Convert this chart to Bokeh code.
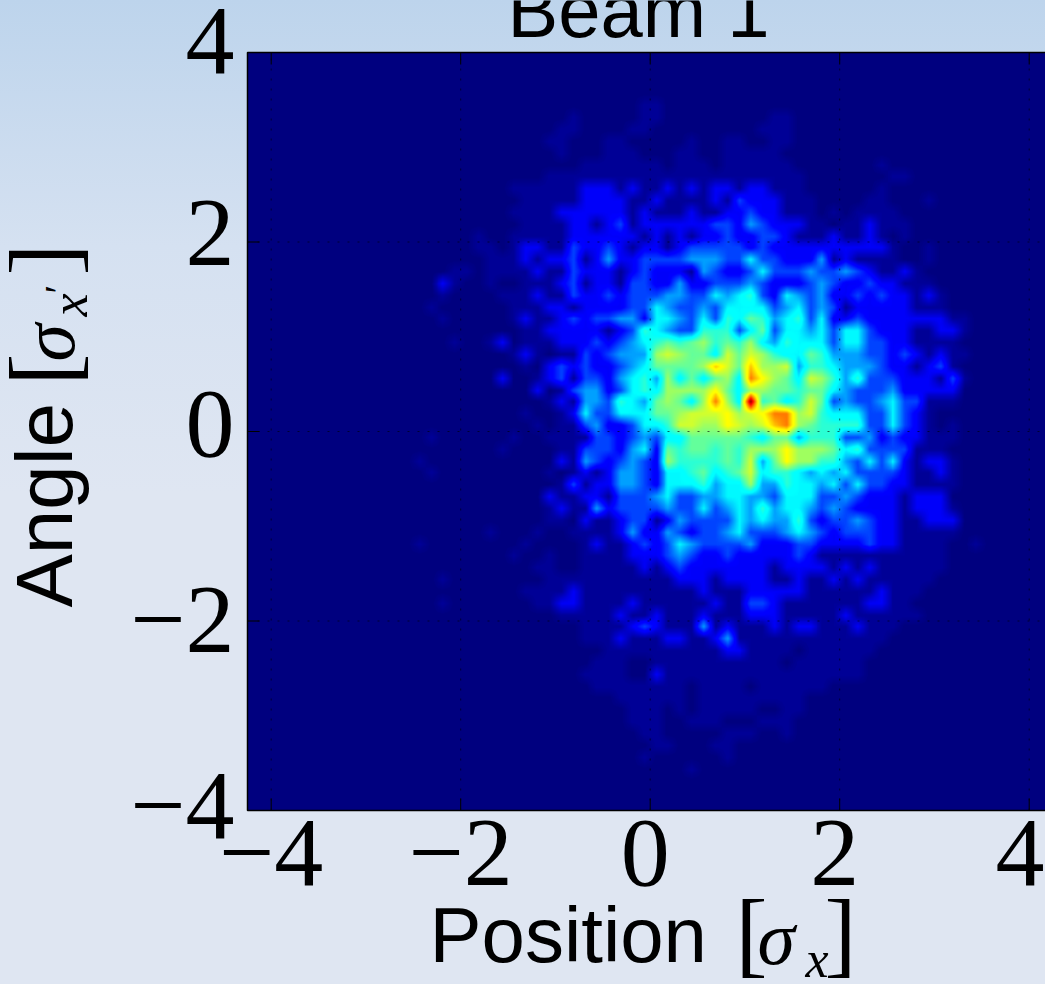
import numpy as np
from bokeh.core.properties import value
from bokeh.embed import file_html
from bokeh.resources import INLINE
from bokeh.models import LinearColorMapper, Range1d, GlobalInlineStyleSheet
from bokeh.plotting import figure

# Histogram levels (hex digit per cell, 0..15), top row first; cell = 0.125 sigma
density_rows = """
0000000000 0000000000 0000000000 0000000000 0000000000 0000000000 00000000
0000000000 0000000000 0000000000 0000000000 0000000000 0000000000 00000000
0000000000 0000000000 0000000000 0000000000 0000000000 0000000000 00000000
0000000000 0000000000 0000000000 0000000000 0000000000 0000000000 00000000
0000000000 0000000000 0000000000 0001100000 0000000000 0000000000 00000000
0000000000 0000000000 0000000100 0001100000 0000110000 0000000000 00000000
0000000000 0000000000 0000001100 0011000000 0001110000 0000000000 00000000
0000000000 0000000000 0000011000 1100000100 1100110000 0000000000 00000000
0000000000 0000000000 0000001000 1110001100 1111100000 0000000000 00000000
0000000000 0000000000 0000000011 1111101110 1111110000 0001000000 00000000
0000000000 0000000000 0000011111 1111111111 1111111000 0000110000 00000000
0000000000 0000000000 0011111122 2121121212 2122111000 0001000000 00000000
0000000000 0000000000 0001111122 2211211112 1322211100 0011000100 00000000
0000000000 0000000000 0011112222 2212111211 2232211101 0111100000 00000000
0000000000 0000000000 0001111221 2312222223 3243222110 1121110000 00000000
0000000000 0000000001 0011111222 2221212122 3223321112 1121010000 00000000
0000000000 0000000001 1012211322 3212212333 3323222222 2222100100 00000000
0000000000 0000000000 1112122312 4223333444 3353322241 2111100100 00000000
0000000000 0000000110 1111211322 2123222143 2235333433 4321121000 00000000
0000000000 0000002100 1001112312 2133224223 3343222343 2232211100 00000000
0000000000 0000001000 0111211322 3233344335 4563254342 2323221210 00000000
0000000000 0000010000 0011122122 2233543343 5555345343 1222221110 00000000
0000000000 0000001000 0012112323 3442554353 6576456352 2322222221 10000000
0000000000 0000000000 0001122222 1236543366 6357355453 5532221122 10000000
0000000000 0000000100 1201112223 2345676786 7685465553 5533221111 00000000
0000000000 0000000000 0012101132 3444898775 9798655764 4433232121 10000000
0000000000 0000000000 0001023232 234577778b 97b8894665 4443221231 00000000
0000000000 0000000000 0200123133 2456485757 85ca875986 4633322213 10000000
0000000000 0000000000 0000201344 235658888a 7588776775 4333422222 00000000
0000000000 0000000000 0000012144 365478758c 85f6756973 4334533111 00000000
0000000000 0000000000 0001001253 3555778999 a89acc8965 5533532100 00000000
0000000000 0000000000 0000101134 2235569988 a989bc8766 6633532101 00000000
0000000000 0000010000 0010011113 3234355777 7765774666 3342322111 00000000
0000000000 0000000000 0100001133 3245276776 76888a8887 5633331110 00000000
0000000000 0000100000 0000002143 2343286666 76947a8866 4353521221 00000000
0000000000 0000010000 0000010121 2443255675 6795665454 5333321121 00000000
0000000000 0000000000 0000001312 2443255564 5584465545 3533221111 00000000
0000000000 0000000000 0000021122 1333453344 5544355533 4322212220 00000000
0000000000 0000000000 0000012114 2333343353 4546455434 3222212221 00000000
0000000000 0000000000 0000011021 1233124333 3545446323 3432211222 00000000
0000000000 0000000000 1000100111 1242243233 4533345432 3332211111 00000000
0000000000 0000100000 0001000012 1123235433 3342223322 2232211110 01000000
0000000000 0000000000 0010010011 1122234322 3222223211 1111111110 00000000
0000000000 0000000000 0000110011 1112123222 2222122221 2121111110 00000000
0000000000 0000001000 0000011111 1111112221 2222112112 1211111100 00000000
0000000000 0000000000 0001111211 1111111121 1122222111 1112111000 00000000
0000000000 0000001000 0000112211 1121111112 1133211111 1122110000 00000000
0000000000 0000000000 0000001111 1211211121 1122211111 2111111000 00000000
0000000000 0000000000 0000000011 1123211141 2111212211 1211100000 00000000
0000000000 0000000000 0000000011 1211122112 4111111111 1111000000 00000000
0000000000 0000000000 0000000000 1111111111 2211110111 1110000000 00000000
0000000000 0000000000 0000000001 1100111111 1111101111 1100000000 00000000
0000000000 0000000000 0000000011 1100211111 1111111111 1100000000 00000000
0000000000 0000000000 0000000001 1111111011 1101111110 0000000000 00000000
0000000000 0000000000 0000000000 0111111011 1111111000 0000000000 00000000
0000000000 0000000000 0000000000 0011101011 1110011000 0000000000 00000000
0000000000 0000000000 0000000000 0011100111 0001110000 0000000000 00000000
0000000000 0000000000 0000000000 0001100000 1110010000 0000000000 00000000
0000000000 0000000000 0000000000 0000110001 1000000000 0000000000 00000000
0000000000 0000000000 0000000000 0001000000 1000000000 0000000000 00000000
0000000000 0000000000 0000000000 0000000100 0000000000 0000000000 00000000
0000000000 0000000000 0000000000 0000000000 0000000000 0000000000 00000000
0000000000 0000000000 0000000000 0000000000 0000000000 0000000000 00000000
0000000000 0000000000 0000000000 0000000000 0000000000 0000000000 00000000
"""
level_values = [0, .35, 1.6, 2.8, 4.0, 5.2, 6.3, 7.2, 8.1, 8.9, 9.7, 10.7, 11.7, 12.7, 13.7, 15]
x_ticks = [-4, -2, 0, 2, 4]
y_ticks = [-4, -2, 0, 2, 4]
x_tick_labels = ["\u22124", "\u22122", "0", "2", "4"]
y_tick_labels = ["\u22124", "\u22122", "0", "2", "4"]

W, H = 1045, 984
LEFT, TOP, BOTTOM = 247, 52, 810
UNIT = (BOTTOM - TOP) / 8.0
X0 = -4.25
BASE = 0.355  # where the browser puts this text baseline, as a fraction of the font size

grid = np.array([[level_values[int(ch, 16)] for ch in row.replace(" ", "")]
                 for row in density_rows.strip().splitlines()], dtype=float)[::-1]


def smooth_display(a, k=12):
    """Bilinear shading of the cells for display, as the original renderer did."""
    ny, nx = a.shape
    xs = (np.arange(nx * k) + .5) / k - .5
    ys = (np.arange(ny * k) + .5) / k - .5
    rows = np.array([np.interp(xs, np.arange(nx), r) for r in a])
    return np.array([np.interp(ys, np.arange(ny), c) for c in rows.T]).T


def dx(px):
    return X0 + (px - LEFT) / UNIT


def dy(py):
    return 4 - (py - TOP) / UNIT


stops = np.array([0, .11, .125, .35, .375, .64, .66, .89, .91, 1.0])
reds = [0, 0, 0, 0, 0, 1, 1, 1, .95, .5]
greens = [0, 0, 0, 1, 1, 1, 1, 0, 0, 0]
blues = [.5, 1, 1, 1, 1, 0, 0, 0, 0, 0]
t = np.linspace(0, 1, 256)
jet = ["#%02x%02x%02x" % (int(255 * np.interp(v, stops, reds)),
                          int(255 * np.interp(v, stops, greens)),
                          int(255 * np.interp(v, stops, blues))) for v in t]
mapper = LinearColorMapper(palette=jet, low=0, high=15)

# The frame fills the canvas, so that labels around the heat map are not clipped to it
p = figure(width=W, height=H, output_backend="svg", toolbar_location=None,
           x_range=Range1d(dx(0), dx(W)), y_range=Range1d(dy(H), dy(0)),
           min_border=0, tools="")
p.border_fill_color = None
p.background_fill_color = None
p.outline_line_color = None
p.xaxis.visible = False
p.yaxis.visible = False
p.grid.visible = False

r = p.image(image=[smooth_display(grid)], x=X0, y=-4, dw=8.5, dh=8, color_mapper=mapper)
r.level = "image"

dots = dict(line_color="#000000", line_alpha=0.6, line_width=1, line_dash="2 8")
p.segment(x0=x_ticks, x1=x_ticks, y0=-4, y1=4, **dots)
p.segment(x0=X0, x1=dx(W), y0=y_ticks, y1=y_ticks, **dots)

tick_len = 12 / UNIT
p.segment(x0=x_ticks, x1=x_ticks, y0=-4, y1=-4 + tick_len, line_color="#000000", line_width=1)
p.segment(x0=x_ticks, x1=x_ticks, y0=4, y1=4 - tick_len, line_color="#000000", line_width=1)
p.segment(x0=X0, x1=X0 + tick_len, y0=y_ticks, y1=y_ticks, line_color="#000000", line_width=1)
p.quad(left=X0, right=X0 + 8.5, bottom=-4, top=4, fill_color=None,
       line_color="#000000", line_width=1.5)


def text(px, py, s, font="Liberation Sans", size=80, style="normal", angle=0, align="left"):
    if angle == 90:
        px -= BASE * size
    else:
        py -= BASE * size
    p.text(x=[dx(px)], y=[dy(py)], text=[s], text_font=value(font),
           text_font_size=value(f"{size}px"), text_font_style=style, text_color="#000000",
           text_baseline="alphabetic", text_align=align, angle=angle, angle_units="deg")


# Tick labels, placed beside their ticks (baselines as in the reference)
y_baselines = [840, 654, 458, 267, 75]
for label, base in zip(y_tick_labels, y_baselines):
    text(234, base, label, "Liberation Serif", 98, align="right")
for tick, label in zip(x_ticks, x_tick_labels):
    px = LEFT + (tick - X0) * UNIT
    if label.startswith("\u2212"):
        text(px + 52, 887, label, "Liberation Serif", 98, align="right")
    elif px + 24 > W:
        text(W - 1, 887, label, "Liberation Serif", 98, align="right")
    else:
        text(px - 5, 887, label, "Liberation Serif", 98, align="center")

text(507, 37, "Beam 1", size=76)

text(429, 962, "Position", size=78)
text(735, 966, "[", "Liberation Serif", 96)
text(757, 964, "\u03c3", "Liberation Serif", 76, "italic")
text(805, 977, "x", "Liberation Serif", 52, "italic")
text(824, 966, "]", "Liberation Serif", 96)

text(72, 607, "Angle", size=80, angle=90)
text(76, 385, "[", "Liberation Serif", 96, angle=90)
text(74, 361, "\u03c3", "Liberation Serif", 76, "italic", angle=90)
text(87, 316, "x", "Liberation Serif", 52, "italic", angle=90)
text(72, 293, "\u2032", "Liberation Serif", 40, angle=90)
text(76, 275, "]", "Liberation Serif", 96, angle=90)

p.stylesheets = [GlobalInlineStyleSheet(css="""
html, body { margin: 0; padding: 0; overflow: hidden; height: 100%; }
body { background: linear-gradient(180deg, rgb(189,212,236) 0px, rgb(213,225,241) 246px,
       rgb(223,230,242) 492px, rgb(223,230,242) 984px) no-repeat; }
""")]

open("out.html", "w").write(file_html(p, INLINE))
